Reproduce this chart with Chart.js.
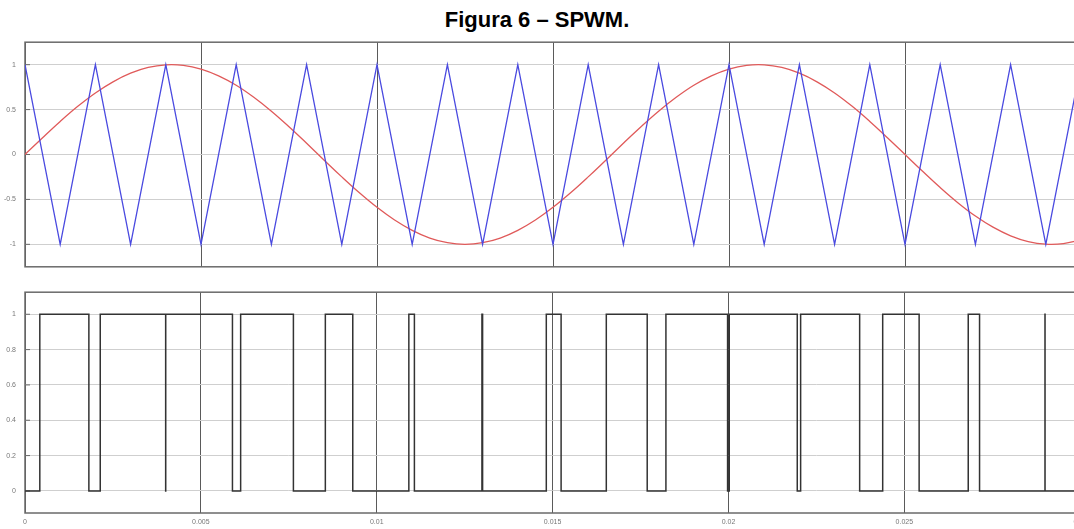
<!DOCTYPE html>
<html>
<head>
<meta charset="utf-8">
<script src="https://cdn.jsdelivr.net/npm/chart.js@4"></script>
<style>
html, body { margin: 0; padding: 0; background: #fff; overflow: hidden; width: 1074px; height: 529px; }
#title { position: absolute; left: 0; top: 7px; width: 1074px; text-align: center;
         font: bold 22px "Liberation Sans", Arial, sans-serif; color: #000; }
.box { position: absolute; left: 0; width: 1092px; }
#top { top: 29px; height: 251px; }
#bot { top: 279px; height: 250px; }
</style>
</head>
<body>
<div id="title">Figura 6 – SPWM.</div>
<div class="box" id="top"><canvas id="chart1"></canvas></div>
<div class="box" id="bot"><canvas id="chart2"></canvas></div>
<script>
// referencia senoidal (ms, valor)
const sineTimeMs = [0,0.5,1,1.5,2,2.5,3,3.5,4,4.5,5,5.5,6,6.5,7,7.5,8,8.5,9,9.5,10,10.5,11,11.5,12,12.5,13,13.5,14,14.5,
                    15,15.5,16,16.5,17,17.5,18,18.5,19,19.5,20,20.5,21,21.5,22,22.5,23,23.5,24,24.5,25,25.5,26,26.5,27,27.5,28,28.5,29,29.5,30]
const sineValues = [0,0.187,0.368,0.536,0.685,0.809,0.905,0.969,0.998,0.992,0.951,0.876,0.771,0.637,0.482,0.309,0.125,-0.063,
                    -0.249,-0.426,-0.588,-0.729,-0.844,-0.930,-0.982,-1.000,-0.982,-0.930,-0.844,-0.729,-0.588,-0.426,-0.249,-0.063,
                    0.125,0.309,0.482,0.637,0.771,0.876,0.951,0.992,0.998,0.969,0.905,0.809,0.685,0.536,0.368,0.187,0,
                    -0.187,-0.368,-0.536,-0.685,-0.809,-0.905,-0.969,-0.998,-0.992,-0.951]
// portadora triangular (vertices)
const triTimeMs = [0,1,2,3,4,5,6,7,8,9,10,11,12,13,14,15,16,17,18,19,20,21,22,23,24,25,26,27,28,29,30]
const triValues = [1,-1,1,-1,1,-1,1,-1,1,-1,1,-1,1,-1,1,-1,1,-1,1,-1,1,-1,1,-1,1,-1,1,-1,1,-1,1]
// saida PWM: nivel inicial e instantes de comutacao (ms)
const pwmStart = 0
const pwmEdgesMs = [0.421,1.816,2.139,3.999,4.001,5.898,6.131,7.631,8.539,9.319,10.913,11.071,12.991,13.010,
                    14.821,15.242,16.527,17.690,18.222,19.975,20.022,21.956,22.052,23.730,24.385,25.421,26.817,27.139,
                    28.999,29.001]
const pwmEndMs = 30
// eixos
const xTicks = [0,0.005,0.01,0.015,0.02,0.025,0.03]
const xTickLabels = ["0","0.005","0.01","0.015","0.02","0.025","0.03"]
const yTicksTop = [-1,-0.5,0,0.5,1]
const yTickLabelsTop = ["-1","-0.5","0","0.5","1"]
const yTicksBottom = [0,0.2,0.4,0.6,0.8,1]
const yTickLabelsBottom = ["0","0.2","0.4","0.6","0.8","1"]

const font = {family: '"Liberation Sans", Arial, sans-serif', size: 7}

// caixa em volta da area do grafico + pequenos tracos dos ticks por dentro
const frame = {
    id: 'frame',
    beforeDatasetsDraw(chart){
        const {ctx, chartArea: a, scales} = chart
        ctx.save()
        ctx.strokeStyle = '#6a6a6a'
        ctx.lineWidth = 1.5
        ctx.strokeRect(a.left, a.top, a.right - a.left, a.bottom - a.top)
        ctx.lineWidth = 1
        for (let t of scales.y.ticks){
            const y = scales.y.getPixelForValue(t.value)
            ctx.beginPath(); ctx.moveTo(a.left, y); ctx.lineTo(a.left + 5, y); ctx.stroke()
        }
        ctx.restore()
    }
}

function xScale(showLabels){
    return {
        type: 'linear', min: 0, max: 0.03,
        afterBuildTicks: s => { s.ticks = xTicks.map(v => ({value: v})) },
        afterFit: s => { s.height = showLabels ? 16 : 0 },
        ticks: {
            display: showLabels, font: font, color: '#777', padding: 5, maxRotation: 0,
            callback: (v) => xTickLabels[xTicks.indexOf(v)] ?? ''
        },
        grid: {color: '#5a5a5a', lineWidth: 1, drawTicks: false},
        border: {display: false}
    }
}

function yScale(min, max, ticks, labels){
    return {
        min: min, max: max,
        afterBuildTicks: s => { s.ticks = ticks.map(v => ({value: v})) },
        afterFit: s => { s.width = 25 },
        ticks: {font: font, color: '#777', padding: 9,
                callback: (v) => labels[ticks.indexOf(v)] ?? ''},
        grid: {color: '#cfcfcf', lineWidth: 1, drawTicks: false},
        border: {display: false}
    }
}

const sineData = sineTimeMs.map((t, i) => ({x: t / 1000, y: sineValues[i]}))
const triData = triTimeMs.map((t, i) => ({x: t / 1000, y: triValues[i]}))

let pwmData = [{x: 0, y: pwmStart}]
let level = pwmStart
for (let t of pwmEdgesMs){
    level = 1 - level
    pwmData.push({x: t / 1000, y: level})
}
pwmData.push({x: pwmEndMs / 1000, y: level})

const common = {
    responsive: true,
    maintainAspectRatio: false,
    animation: false,
    plugins: {legend: {display: false}, tooltip: {enabled: false}, title: {display: false}},
    elements: {point: {radius: 0}}
}

new Chart(document.getElementById('chart1'), {
    type: 'line',
    data: {
        datasets: [
            {label: 'portadora', data: triData, borderColor: '#4a4ae0', borderWidth: 1.3, tension: 0},
            {label: 'referencia', data: sineData, borderColor: '#e05a5a', borderWidth: 1.3, tension: 0.4}
        ]
    },
    options: Object.assign({}, common, {
        layout: {padding: {top: 10, bottom: 11, left: 0, right: 11}},
        scales: {x: xScale(false), y: yScale(-1.25, 1.25, yTicksTop, yTickLabelsTop)}
    }),
    plugins: [frame]
})

new Chart(document.getElementById('chart2'), {
    type: 'line',
    data: {
        datasets: [
            {label: 'PWM', data: pwmData, borderColor: '#333', borderWidth: 1.5, stepped: true}
        ]
    },
    options: Object.assign({}, common, {
        layout: {padding: {top: 10, bottom: 0, left: 0, right: 11}},
        scales: {x: xScale(true), y: yScale(-0.125, 1.125, yTicksBottom, yTickLabelsBottom)}
    }),
    plugins: [frame]
})
</script>
</body>
</html>
